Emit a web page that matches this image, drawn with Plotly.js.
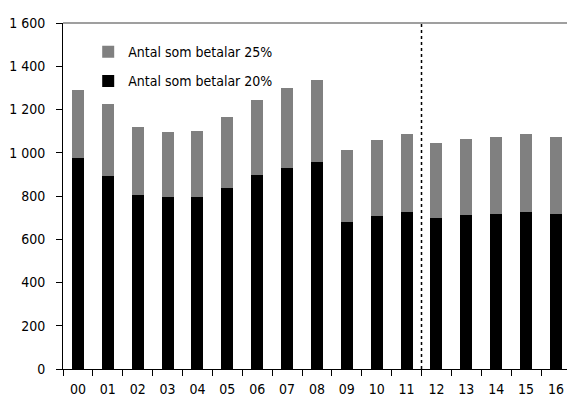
<!DOCTYPE html>
<html>
<head>
<meta charset="utf-8">
<script src="https://cdn.plot.ly/plotly-3.0.1.min.js"></script>
<style>html,body{margin:0;padding:0;background:#fff;}#chart{width:567px;height:398px;}</style>
</head>
<body>
<div id="chart"></div>
<script>
var years = ["00","01","02","03","04","05","06","07","08","09","10","11","12","13","14","15","16"];
var pay20 = [977, 894, 805, 794, 794, 838, 895, 931, 956, 678, 709, 724, 700, 711, 718, 728, 718];
var pay25 = [315, 330, 313, 300, 305, 327, 350, 367, 379, 333, 348, 361, 345, 353, 355, 357, 353];
var name20 = "Antal som betalar 20%";
var name25 = "Antal som betalar 25%";
var yTicks = [0, 200, 400, 600, 800, 1000, 1200, 1400, 1600];

var FONT = "'DejaVu Sans Condensed', 'Liberation Sans Narrow', Arial, sans-serif";

var traces = [
  {type: "bar", x: years, y: pay20, name: name20, marker: {color: "#000000"}, legendgroup: "a", legendrank: 2},
  {type: "bar", x: years, y: pay25, name: name25, marker: {color: "#808080"}, legendgroup: "b", legendrank: 1}
];

var layout = {
  width: 567, height: 398,
  margin: {l: 63, r: 0, t: 23, b: 29},
  paper_bgcolor: "#ffffff", plot_bgcolor: "#ffffff",
  barmode: "stack", bargap: 0.6,
  separators: ", ",
  font: {family: FONT, size: 14, color: "#000000"},
  showlegend: true,
  legend: {x: 0.05, y: 0.962, xanchor: "left", yanchor: "top", bgcolor: "rgba(0,0,0,0)",
           traceorder: "grouped", tracegroupgap: 8, font: {family: FONT, size: 14, color: "#000"}},
  xaxis: {type: "category", range: [-0.5, 16.37], showgrid: false, zeroline: false,
          showline: true, linecolor: "#000", linewidth: 1,
          ticks: "outside", tickson: "boundaries", ticklen: 6, tickcolor: "#000",
          ticklabelstandoff: 7, tickfont: {family: FONT, size: 14}},
  yaxis: {range: [0, 1600], tickvals: yTicks, showgrid: false, zeroline: false,
          showline: true, linecolor: "#000", linewidth: 1, separatethousands: true,
          ticks: "outside", ticklen: 6, tickcolor: "#000", ticklabelstandoff: 8,
          tickfont: {family: FONT, size: 14}},
  shapes: [
    {type: "line", xref: "paper", yref: "paper", x0: 0, x1: 1, y0: 1, y1: 1, line: {color: "#7f7f7f", width: 1.5}},
    {type: "line", xref: "x", yref: "paper", x0: 11.5, x1: 11.5, y0: 0, y1: 1, line: {color: "#000", width: 1.5, dash: "dot"}}
  ]
};

Plotly.newPlot("chart", traces, layout, {displayModeBar: false, staticPlot: true});
</script>
</body>
</html>
